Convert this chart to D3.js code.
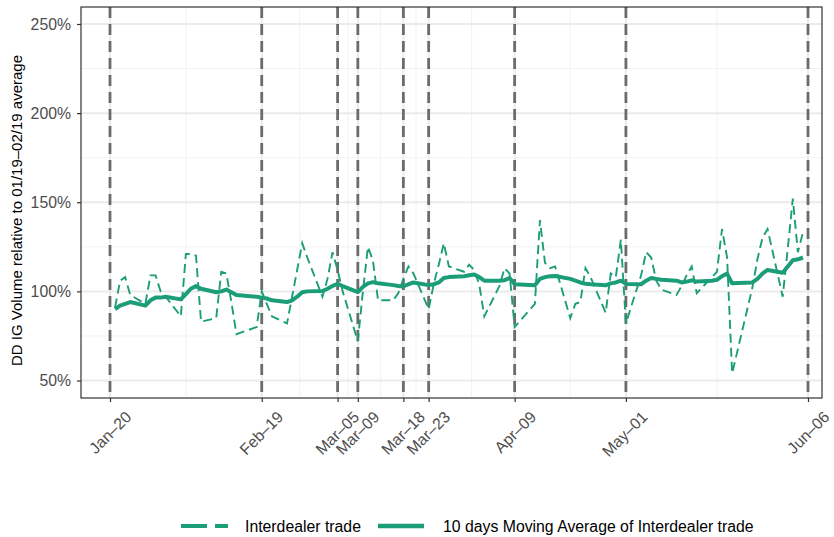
<!DOCTYPE html>
<html>
<head>
<meta charset="utf-8">
<script src="https://cdn.jsdelivr.net/npm/d3@7"></script>
<style>
  html, body { margin: 0; padding: 0; background: #fff; }
  svg { display: block; font-family: "Liberation Sans", Arial, Helvetica, sans-serif; }
</style>
</head>
<body>
<svg id="chart" width="834" height="537"></svg>
<script>
// Trading days (2020)
const dates = [
  "2020-01-21","2020-01-22","2020-01-23","2020-01-24",
  "2020-01-27","2020-01-28","2020-01-29","2020-01-30","2020-01-31",
  "2020-02-03","2020-02-04","2020-02-05","2020-02-06","2020-02-07",
  "2020-02-10","2020-02-11","2020-02-12","2020-02-13","2020-02-14",
  "2020-02-18","2020-02-19","2020-02-20","2020-02-21",
  "2020-02-24","2020-02-25","2020-02-26","2020-02-27","2020-02-28",
  "2020-03-02","2020-03-03","2020-03-04","2020-03-05","2020-03-06",
  "2020-03-09","2020-03-10","2020-03-11","2020-03-12","2020-03-13",
  "2020-03-16","2020-03-17","2020-03-18","2020-03-19","2020-03-20",
  "2020-03-23","2020-03-24","2020-03-25","2020-03-26","2020-03-27",
  "2020-03-30","2020-03-31","2020-04-01","2020-04-02","2020-04-03",
  "2020-04-06","2020-04-07","2020-04-08","2020-04-09",
  "2020-04-13","2020-04-14","2020-04-15","2020-04-16","2020-04-17",
  "2020-04-20","2020-04-21","2020-04-22","2020-04-23","2020-04-24",
  "2020-04-27","2020-04-28","2020-04-29","2020-04-30","2020-05-01",
  "2020-05-04","2020-05-05","2020-05-06","2020-05-07","2020-05-08",
  "2020-05-11","2020-05-12","2020-05-13","2020-05-14","2020-05-15",
  "2020-05-18","2020-05-19","2020-05-20","2020-05-21","2020-05-22",
  "2020-05-26","2020-05-27","2020-05-28","2020-05-29",
  "2020-06-01","2020-06-02","2020-06-03","2020-06-04","2020-06-05"
];

// Daily interdealer volume, % of the 01/19–02/19 average
const interdealer = [
  91, 106, 108, 98,
  93, 109, 109, 100, 97,
  86, 121, 121, 120, 83,
  85, 111, 110, 94, 76,
  80, 100, 93, 86,
  82, 97, 112, 127, 119,
  97, 107, 122, 112, 100,
  72, 100, 125, 117, 95,
  95, 99, 107, 114, 110,
  90, 104, 115, 127, 114,
  111, 115, 112, 104, 86,
  103, 113, 110, 80,
  93, 140, 116, 113, 114,
  85, 93, 94, 113, 108,
  88, 110, 108, 129, 82,
  109, 122, 119, 106, 101,
  98, 103, 109, 114, 99,
  108, 111, 135, 119, 54,
  102, 118, 130, 135,
  97, 124, 152, 122, 133
];

// 10 trading-day moving average of the series above
const movingAvg = [
  90, 92, 93, 94,
  92, 95, 96.5, 96.5, 97,
  95.5, 98.5, 101.5, 103, 101.5,
  99.5, 100, 101, 99.5, 98,
  97, 96.5, 96, 95,
  94, 95, 97, 99.5, 100,
  100.2, 101.5, 103, 104.3, 103,
  99.6, 102.5, 104.5, 105.2, 104.5,
  103.5, 103, 102.8, 104, 105,
  103.5, 104, 105, 107.5, 108,
  108.5, 109, 109.5, 108, 106,
  106, 106.3, 107.5, 104,
  103.5, 107, 108, 108.5, 108.6,
  107, 106, 105, 104.3, 104,
  103.4, 104.5, 105, 106, 104.2,
  104, 106, 107.5, 107, 106.5,
  106, 105, 105.5, 106.2, 105.5,
  106, 106.5, 108.5, 110, 104.5,
  105, 107, 110, 112,
  110.5, 114, 117.5, 118, 119
];

// Event dates marked with vertical lines and used as axis breaks
const eventDates = ["2020-01-20","2020-02-19","2020-03-05","2020-03-09","2020-03-18",
                    "2020-03-23","2020-04-09","2020-05-01","2020-06-06"];
const eventLabels = ["Jan–20","Feb–19","Mar–05","Mar–09","Mar–18",
                     "Mar–23","Apr–09","May–01","Jun–06"];

const yTicks = [50, 100, 150, 200, 250];
const yMinor = [75, 125, 175, 225];

const seriesNames = ["Interdealer trade", "10 days Moving Average of Interdealer trade"];

const green = "#1b9e77";
const parse = d3.utcParse("%Y-%m-%d");

const panel = { left: 81, right: 822, top: 7, bottom: 398 };

const x = d3.scaleUtc()
  .domain([parse(eventDates[0]), parse(eventDates[eventDates.length - 1])])
  .range([110, 808]);
const y = d3.scaleLinear().domain([50, 250]).range([380.5, 24]);

const svg = d3.select("#chart");

// panel background
svg.append("rect")
  .attr("x", panel.left).attr("y", panel.top)
  .attr("width", panel.right - panel.left).attr("height", panel.bottom - panel.top)
  .attr("fill", "#fff");

const grid = svg.append("g");
// minor grid sits midway between the breaks
const eventX = eventDates.map(d => x(parse(d)));
const minorX = d3.pairs(eventX).map(([a, b]) => (a + b) / 2);
grid.selectAll(".hmin").data(yMinor).join("line")
  .attr("x1", panel.left).attr("x2", panel.right)
  .attr("y1", d => y(d)).attr("y2", d => y(d))
  .attr("stroke", "#f2f2f2").attr("stroke-width", 1);
grid.selectAll(".vmin").data(minorX).join("line")
  .attr("x1", d => d).attr("x2", d => d)
  .attr("y1", panel.top).attr("y2", panel.bottom)
  .attr("stroke", "#f2f2f2").attr("stroke-width", 1);
grid.selectAll(".hmaj").data(yTicks).join("line")
  .attr("x1", panel.left).attr("x2", panel.right)
  .attr("y1", d => y(d)).attr("y2", d => y(d))
  .attr("stroke", "#ebebeb").attr("stroke-width", 2);
grid.selectAll(".vmaj").data(eventX).join("line")
  .attr("x1", d => d).attr("x2", d => d)
  .attr("y1", panel.top).attr("y2", panel.bottom)
  .attr("stroke", "#ebebeb").attr("stroke-width", 2);

// vertical event lines
svg.append("g").selectAll("line").data(eventDates).join("line")
  .attr("x1", d => x(parse(d))).attr("x2", d => x(parse(d)))
  .attr("y1", panel.top).attr("y2", panel.bottom)
  .attr("stroke", "#6b6b6b").attr("stroke-width", 2.8)
  .attr("stroke-dasharray", "11,6");

const pts = dates.map((d, i) => ({ date: parse(d), raw: interdealer[i], ma: movingAvg[i] }));

svg.append("clipPath").attr("id", "clip").append("rect")
  .attr("x", panel.left).attr("y", panel.top)
  .attr("width", panel.right - panel.left).attr("height", panel.bottom - panel.top);

const lines = svg.append("g").attr("clip-path", "url(#clip)");
lines.append("path").datum(pts)
  .attr("fill", "none").attr("stroke", green).attr("stroke-width", 1.9)
  .attr("stroke-dasharray", "9,5")
  .attr("d", d3.line().x(d => x(d.date)).y(d => y(d.raw)));
lines.append("path").datum(pts)
  .attr("fill", "none").attr("stroke", green).attr("stroke-width", 4)
  .attr("stroke-linejoin", "round")
  .attr("d", d3.line().x(d => x(d.date)).y(d => y(d.ma)));

// panel border
svg.append("rect")
  .attr("x", panel.left).attr("y", panel.top)
  .attr("width", panel.right - panel.left).attr("height", panel.bottom - panel.top)
  .attr("fill", "none").attr("stroke", "#333").attr("stroke-width", 1.2);

// y axis
const yAxis = svg.append("g").attr("transform", `translate(${panel.left},0)`)
  .call(d3.axisLeft(y).tickValues(yTicks).tickSize(4).tickPadding(6)
    .tickFormat(d => d + "%"));
yAxis.select(".domain").remove();
yAxis.selectAll(".tick line").attr("stroke", "#333").attr("stroke-width", 1.2);
yAxis.selectAll(".tick text").attr("fill", "#4d4d4d")
  .style("font-size", "15.8px").style("font-family", "Liberation Sans, Arial, sans-serif");

// x axis
const xAxis = svg.append("g").attr("transform", `translate(0,${panel.bottom})`)
  .call(d3.axisBottom(x).tickValues(eventDates.map(parse)).tickSize(4)
    .tickFormat((d, i) => eventLabels[i]));
xAxis.select(".domain").remove();
xAxis.selectAll(".tick line").attr("stroke", "#333").attr("stroke-width", 1.2);
xAxis.selectAll(".tick text")
  .attr("fill", "#4d4d4d")
  .style("font-size", "15.8px").style("font-family", "Liberation Sans, Arial, sans-serif")
  .attr("text-anchor", "end")
  .attr("dy", null).attr("y", null)
  .attr("transform", "translate(22,20) rotate(-45)");

// y axis title
svg.append("text")
  .attr("transform", `translate(22,${(panel.top + panel.bottom) / 2 + 8}) rotate(-90)`)
  .attr("text-anchor", "middle")
  .style("font-size", "15px")
  .attr("fill", "#000")
  .text("DD IG Volume relative to 01/19–02/19 average");

// legend
const legend = svg.append("g").attr("transform", "translate(0,526)");
legend.append("line").attr("x1", 181).attr("x2", 229).attr("y1", 0).attr("y2", 0)
  .attr("stroke", green).attr("stroke-width", 4).attr("stroke-dasharray", "26,8,13,10");
legend.append("text").attr("x", 245).attr("y", 0).attr("dy", "0.35em")
  .style("font-size", "15.8px").attr("fill", "#000").text(seriesNames[0]);
legend.append("line").attr("x1", 378).attr("x2", 424).attr("y1", 0).attr("y2", 0)
  .attr("stroke", green).attr("stroke-width", 4.5);
legend.append("text").attr("x", 443).attr("y", 0).attr("dy", "0.35em")
  .style("font-size", "15.8px").attr("fill", "#000").text(seriesNames[1]);
</script>
</body>
</html>
